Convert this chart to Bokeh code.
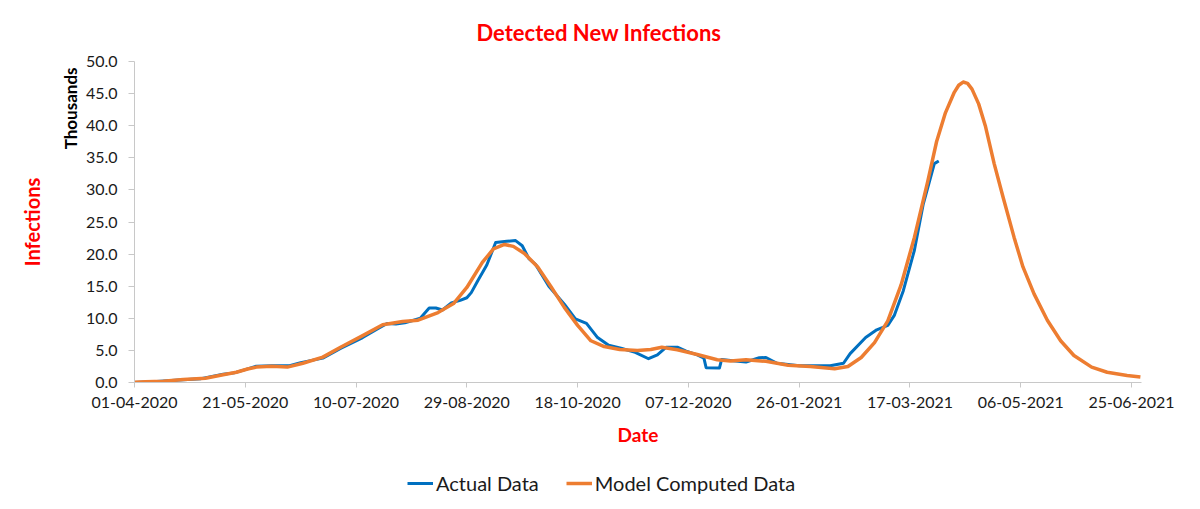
from bokeh.plotting import figure
from bokeh.layouts import column
from bokeh.models import FixedTicker, NumeralTickFormatter, Legend, LegendItem, Range1d, Title
from bokeh.embed import file_html
from bokeh.resources import INLINE

# ---------------- data (thousands of new infections) ----------------
# x values are days since 01-04-2020
actual_day = [0, 10, 20, 30, 40, 45, 50, 55, 62, 70, 75, 85, 93, 103, 110, 114, 118, 122, 126, 129,
              133, 136, 139, 143, 147, 150, 152, 155, 159, 163, 168, 172, 175, 178, 181, 187, 194, 199, 204, 209,
              214, 220, 226, 232, 236, 240, 245, 249, 254, 257, 258, 264, 265, 270, 276, 282, 285, 290, 300, 314,
              320, 323, 330, 335, 340, 343, 347, 352, 356, 361, 363]
actual_k = [0.0, 0.15, 0.4, 0.6, 1.3, 1.5, 2.0, 2.55, 2.6, 2.6, 3.1, 3.8, 5.3, 7.0, 8.4, 9.2, 9.1, 9.3, 9.7, 10.0,
            11.6, 11.6, 11.3, 12.4, 12.8, 13.2, 14.0, 15.9, 18.3, 21.8, 22.0, 22.1, 21.3, 19.3, 18.4, 15.0, 12.2, 9.9, 9.2, 7.0,
            5.8, 5.3, 4.7, 3.7, 4.3, 5.5, 5.5, 4.9, 4.3, 3.8, 2.3, 2.25, 3.6, 3.4, 3.2, 3.85, 3.9, 3.0, 2.6, 2.6,
            3.0, 4.5, 7.0, 8.2, 8.9, 10.5, 14.3, 20.6, 27.8, 34.1, 34.5]

model_day = [0, 5, 13, 22, 32, 40, 46, 51, 55, 62, 69, 76, 85, 93, 103, 112, 121, 128, 137, 144,
             150, 157, 162, 167, 171, 176, 182, 188, 194, 200, 206, 212, 219, 227, 233, 238, 245, 254, 263, 269,
             276, 285, 295, 305, 316, 322, 328, 334, 340, 346, 352, 358, 362, 366, 370, 372, 374, 376, 378, 381,
             384, 388, 392, 397, 401, 406, 412, 418, 424, 432, 439, 448, 454]
model_k = [0.05, 0.1, 0.2, 0.45, 0.65, 1.2, 1.6, 2.1, 2.4, 2.55, 2.4, 3.0, 3.95, 5.5, 7.3, 9.0, 9.5, 9.7, 10.9, 12.3,
           14.8, 18.7, 20.8, 21.5, 21.2, 20.1, 18.0, 14.9, 11.7, 8.9, 6.5, 5.6, 5.15, 5.0, 5.15, 5.5, 5.1, 4.35, 3.55, 3.35,
           3.55, 3.3, 2.7, 2.5, 2.15, 2.5, 3.9, 6.2, 9.6, 15.2, 22.6, 31.3, 37.5, 42.0, 45.2, 46.3, 46.8, 46.6, 45.7, 43.4,
           40.0, 34.1, 28.9, 22.6, 18.0, 13.8, 9.7, 6.5, 4.2, 2.4, 1.6, 1.1, 0.85]

x_tick_days = [0, 50, 100, 150, 200, 250, 300, 350, 400, 450]
x_tick_labels = ["01-04-2020", "21-05-2020", "10-07-2020", "29-08-2020", "18-10-2020",
                 "07-12-2020", "26-01-2021", "17-03-2021", "06-05-2021", "25-06-2021"]
y_ticks = [0, 5, 10, 15, 20, 25, 30, 35, 40, 45, 50]

# ---------------- layout ----------------
W = 1200
H_MAIN, H_LEG = 460, 49
L, R, T = 134, 59, 61
FRAME_BOTTOM = 382
X_END = 454.5
Y_END = 50

RED = "#FF0000"
AXIS = "#C8C8C8"
TXT = "#1a1a1a"
BLUE = "#0070C0"
ORANGE = "#ED7D31"

p = figure(width=W, height=H_MAIN, output_backend="svg", toolbar_location=None,
           x_range=Range1d(0, X_END), y_range=Range1d(0, Y_END),
           min_border_left=L, min_border_right=R, min_border_top=T,
           min_border_bottom=H_MAIN - FRAME_BOTTOM)
p.outline_line_color = None
p.xgrid.visible = False
p.ygrid.visible = False

p.line(actual_day, actual_k, line_color=BLUE, line_width=3, line_join="round")
p.line(model_day, model_k, line_color=ORANGE, line_width=3.5, line_join="round")

xa = p.xaxis[0]
xa.ticker = FixedTicker(ticks=x_tick_days)
xa.major_label_overrides = {d: s for d, s in zip(x_tick_days, x_tick_labels)}
xa.axis_line_color = AXIS
xa.major_tick_line_color = AXIS
xa.major_tick_out = 5
xa.major_tick_in = 0
xa.minor_tick_line_color = None
xa.major_label_text_font = "Lato"
xa.major_label_text_font_size = "16px"
xa.major_label_text_color = TXT
xa.major_label_standoff = 9
xa.axis_label = "Date"
xa.axis_label_text_font = "Lato"
xa.axis_label_text_font_style = "bold"
xa.axis_label_text_font_size = "19px"
xa.axis_label_text_color = RED
xa.axis_label_standoff = 12

ya = p.yaxis[0]
ya.ticker = FixedTicker(ticks=y_ticks)
ya.formatter = NumeralTickFormatter(format="0.0")
ya.axis_line_color = AXIS
ya.major_tick_line_color = AXIS
ya.major_tick_out = 6
ya.major_tick_in = 0
ya.minor_tick_line_color = None
ya.major_label_text_font = "Lato"
ya.major_label_text_font_size = "16px"
ya.major_label_text_color = TXT
ya.major_label_standoff = 11

title = Title(text="Detected New Infections", align="left", offset=342, standoff=32,
              text_font="Lato", text_font_style="bold", text_font_size="22px", text_color=RED)
p.add_layout(title, "above")

units = Title(text="Thousands", align="right", offset=6, standoff=3,
              text_font="Lato", text_font_style="bold", text_font_size="17px", text_color="#000000")
p.add_layout(units, "left")

ylab = Title(text="Infections", align="center", standoff=25,
             text_font="Lato", text_font_style="bold", text_font_size="20px", text_color=RED)
p.add_layout(ylab, "left")

# ---------------- legend strip (same series, drawn off-range so only the legend shows) ----------------
q = figure(width=W, height=H_LEG, output_backend="svg", toolbar_location=None,
           x_range=Range1d(0, X_END), y_range=Range1d(-200, -100),
           x_axis_type=None, y_axis_type=None,
           min_border_left=0, min_border_right=0, min_border_top=0, min_border_bottom=0)
q.outline_line_color = None
q.xgrid.visible = False
q.ygrid.visible = False
lb = q.line(actual_day, actual_k, line_color=BLUE, line_width=3)
lo = q.line(model_day, model_k, line_color=ORANGE, line_width=3.5)

legend = Legend(items=[LegendItem(label="Actual Data", renderers=[lb]),
                       LegendItem(label="Model Computed Data", renderers=[lo])],
                orientation="horizontal", location=(273, 14),
                padding=0, margin=0, spacing=27, glyph_width=26, glyph_height=20,
                label_standoff=3, label_height=20,
                label_text_font="Lato", label_text_font_size="20px", label_text_color=TXT,
                border_line_alpha=0, background_fill_alpha=0)
q.add_layout(legend)

layout = column(p, q, spacing=0)
open("out.html", "w").write(file_html(layout, INLINE))
